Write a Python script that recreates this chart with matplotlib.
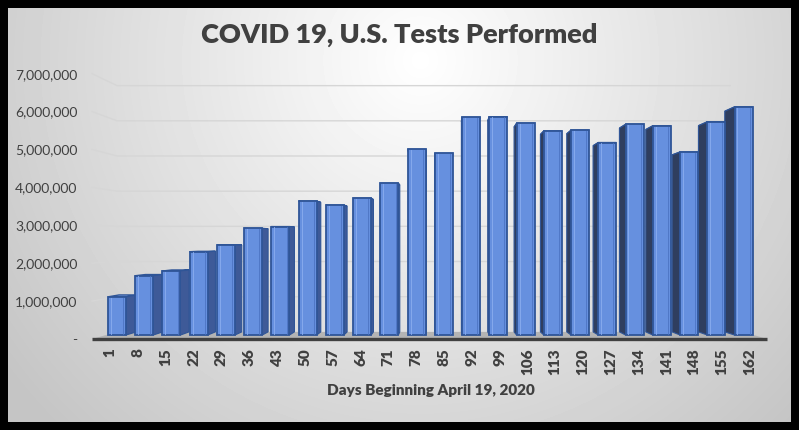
import numpy as np
import matplotlib
matplotlib.use("Agg")
import matplotlib.pyplot as plt
from matplotlib.patches import Polygon

days = [1, 8, 15, 22, 29, 36, 43, 50, 57, 64, 71, 78,
        85, 92, 99, 106, 113, 120, 127, 134, 141, 148, 155, 162]
tests = [1050000, 1630000, 1760000, 2290000, 2470000, 2930000, 2980000, 3680000,
         3570000, 3760000, 4170000, 5100000, 4990000, 5980000, 6000000, 5820000,
         5610000, 5630000, 5290000, 5790000, 5750000, 5030000, 5860000, 6270000]
y_ticks = [0, 1000000, 2000000, 3000000, 4000000, 5000000, 6000000, 7000000]
y_tick_labels = ["-", "1,000,000", "2,000,000", "3,000,000", "4,000,000",
                 "5,000,000", "6,000,000", "7,000,000"]

title = "COVID 19, U.S. Tests Performed"
x_label = "Days Beginning April 19, 2020"

# fake 3D: everything recedes toward a vanishing point (data units)
VP_X = 11.86
VP_Y = 2610000
BAR_FRONT = 0.04
BAR_BACK = 0.072
WALL = 0.072
BAR_W = 0.66
XL, XR = -0.405, 23.38

TEXT_C = "#404040"
FRONT_C = "#6690df"
TOP_C = "#86aaee"
EDGE_C = "#2f5597"
SIDE_L = "#3e5a98"
SIDE_R = "#2f3e5f"


def project(x, y, depth):
    return (x + depth * (VP_X - x), y + depth * (VP_Y - y))


fig = plt.figure(figsize=(7.99, 4.30), dpi=100)
fig.patch.set_facecolor("black")

# radial grey background inside the black frame
bg = fig.add_axes([8 / 799, 8 / 430, 783 / 799, 414 / 430])
yy, xx = np.mgrid[0:414, 0:783]
r = np.hypot(xx - 412, yy - 52) / 520
grad = 1 - 0.23 * np.clip(r, 0, 1)
bg.imshow(grad, cmap="gray", vmin=0, vmax=1, aspect="auto",
          extent=[0, 1, 0, 1], interpolation="bilinear")
bg.axis("off")

ax = fig.add_axes([92 / 799, (430 - 339) / 430, 675 / 799, 280.5 / 430])
ax.patch.set_alpha(0)
ax.set_xlim(XL, XR)
ax.set_ylim(0, 7400000)
for s in ax.spines.values():
    s.set_visible(False)

# floor
floor = [project(XL, 0, 0), project(XR, 0, 0),
         project(XR, 0, WALL), project(XL, 0, WALL)]
ax.add_patch(Polygon(floor, closed=True, fc="#b4b4b4", ec="none", zorder=1))

# gridlines: left wall diagonal + back wall
for v in y_ticks[1:]:
    p0 = project(XL, v, 0)
    p1 = project(XL, v, WALL)
    p2 = project(XR - 0.5, v, WALL)
    ax.plot([p0[0], p1[0], p2[0]], [p0[1], p1[1], p2[1]],
            color="#d6d6d6", lw=1.0, zorder=1, clip_on=False)

for i, v in enumerate(tests):
    x0, x1 = i - BAR_W / 2, i + BAR_W / 2
    ftl, ftr = project(x0, v, BAR_FRONT), project(x1, v, BAR_FRONT)
    fbl, fbr = project(x0, 0, BAR_FRONT), project(x1, 0, BAR_FRONT)
    btl, btr = project(x0, v, BAR_BACK), project(x1, v, BAR_BACK)
    bbl, bbr = project(x0, 0, BAR_BACK), project(x1, 0, BAR_BACK)

    ax.add_patch(Polygon([ftl, ftr, btr, btl], closed=True, fc=TOP_C,
                         ec=EDGE_C, lw=1.0, zorder=2))
    if i < VP_X:
        side = [ftr, btr, bbr, fbr]
        sc = SIDE_L
    else:
        side = [ftl, btl, bbl, fbl]
        sc = SIDE_R
    ax.add_patch(Polygon(side, closed=True, fc=sc, ec=EDGE_C, lw=0.8, zorder=3))
    ax.add_patch(Polygon([fbl, fbr, ftr, ftl], closed=True, fc=FRONT_C,
                         ec=EDGE_C, lw=1.3, zorder=4))
    # bevel highlight inside the front face
    inset = BAR_W * 0.16
    il = project(x0 + inset, 0, BAR_FRONT)
    ih = project(x0 + inset, v, BAR_FRONT)
    ax.plot([il[0], ih[0]], [il[1] + 20000, ih[1] - 20000], color="#8db0f0",
            lw=0.7, alpha=0.8, zorder=5)
    ir = project(x1 - inset, 0, BAR_FRONT)
    irh = project(x1 - inset, v, BAR_FRONT)
    ax.plot([ir[0], irh[0]], [ir[1] + 20000, irh[1] - 20000], color="#4a72c0",
            lw=0.7, alpha=0.8, zorder=5)

# front edge of the floor
ax.plot([XL, XR], [0, 0], color="#404040", lw=2.4, zorder=6,
        solid_capstyle="butt", clip_on=False)

ax.set_yticks(y_ticks, y_tick_labels)
x_pos = [project(i, 0, 0.02)[0] for i in range(len(days))]
ax.set_xticks(x_pos, [str(d) for d in days])
ax.tick_params(axis="y", length=0, pad=10.5, labelsize=10, labelcolor=TEXT_C)
ax.tick_params(axis="x", length=0, pad=6.5, labelsize=11, labelcolor=TEXT_C,
               labelrotation=90)
for lab in ax.get_yticklabels():
    lab.set_fontfamily("Lato")
for lab in ax.get_xticklabels():
    lab.set_fontfamily("Lato")
    lab.set_fontweight(800)

fig.text(0.5, 1 - 43 / 430, title, ha="center", va="baseline",
         fontsize=19.5, fontweight=800, color=TEXT_C, family="Lato")
fig.text(431 / 799, 1 - 395 / 430, x_label, ha="center", va="baseline",
         fontsize=11, fontweight=800, color=TEXT_C, family="Lato")

fig.savefig("out.png", dpi=100, facecolor=fig.get_facecolor())
